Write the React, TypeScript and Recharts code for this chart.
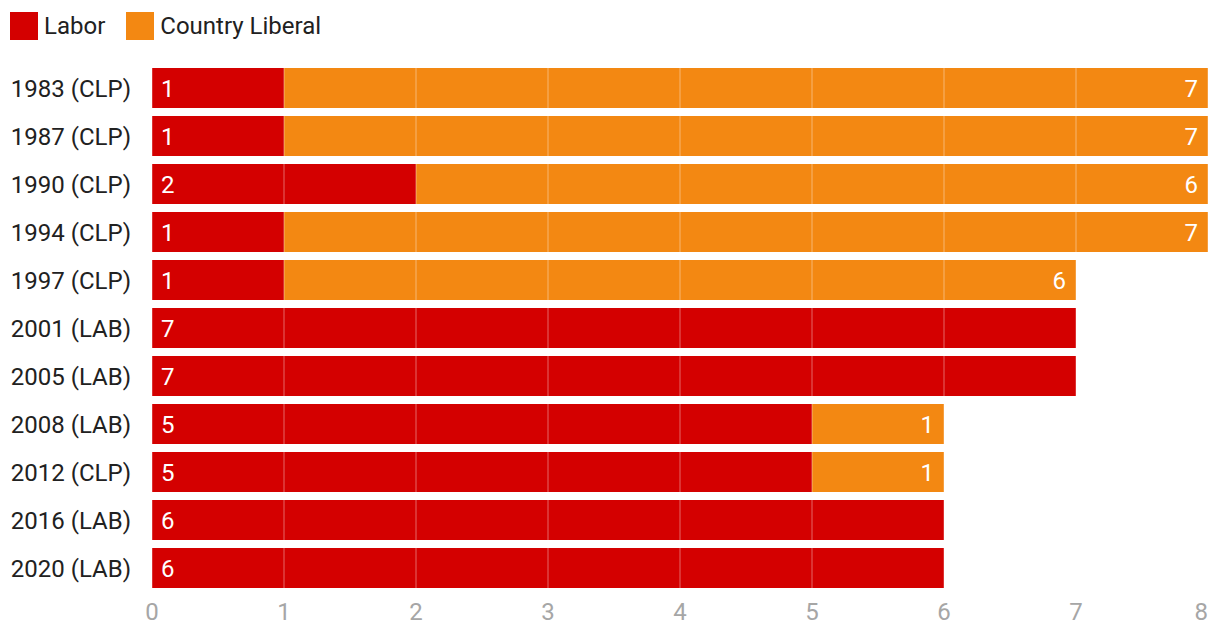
import { Bar, BarChart, LabelList, ReferenceLine, XAxis, YAxis } from 'recharts';

const elections = [
  '1983 (CLP)',
  '1987 (CLP)',
  '1990 (CLP)',
  '1994 (CLP)',
  '1997 (CLP)',
  '2001 (LAB)',
  '2005 (LAB)',
  '2008 (LAB)',
  '2012 (CLP)',
  '2016 (LAB)',
  '2020 (LAB)',
];
const laborSeats = [1, 1, 2, 1, 1, 7, 7, 5, 5, 6, 6];
const clpSeats = [7, 7, 6, 7, 6, 0, 0, 1, 1, 0, 0];
const xTicks = [0, 1, 2, 3, 4, 5, 6, 7, 8];

const LABOR = '#d40000';
const CLP = '#f38812';
const FONT = 'Roboto, sans-serif';

const data = elections.map((name, i) => ({ name, labor: laborSeats[i], clp: clpSeats[i] }));

const hideZero = (v: any) => (v === 0 ? '' : v);

function XTick({ x, y, payload }: any) {
  const last = payload.value === xTicks[xTicks.length - 1];
  return (
    <text x={x} y={y} dy="0.71em" textAnchor={last ? 'end' : 'middle'} fill="#a6a6a6" fontSize={24} fontFamily={FONT}>
      {payload.value}
    </text>
  );
}

function LegendItem({ color, label }: { color: string; label: string }) {
  return (
    <div style={{ display: 'flex', alignItems: 'center', marginRight: 21 }}>
      <div style={{ width: 28, height: 28, background: color, marginRight: 6 }} />
      <span style={{ fontSize: 24, color: '#212121', fontFamily: FONT }}>{label}</span>
    </div>
  );
}

export default function App() {
  return (
    <div style={{ position: 'absolute', left: 0, top: 0, width: 1220, height: 636, background: '#fff' }}>
      <div style={{ position: 'absolute', left: 10, top: 12, height: 28, display: 'flex' }}>
        <LegendItem color={LABOR} label="Labor" />
        <LegendItem color={CLP} label="Country Liberal" />
      </div>
      <BarChart
        width={1220}
        height={636}
        data={data}
        layout="vertical"
        margin={{ top: 64, right: 12, left: 0, bottom: 0 }}
        barSize={40}
      >
        <XAxis
          type="number"
          domain={[0, 8]}
          ticks={xTicks}
          height={44}
          axisLine={false}
          tickLine={false}
          tickSize={0}
          tickMargin={11}
          tick={<XTick />}
        />
        <YAxis
          type="category"
          dataKey="name"
          width={152}
          axisLine={false}
          tickLine={false}
          tickSize={0}
          tickMargin={21}
          tick={{ fill: '#212121', fontSize: 24, fontFamily: FONT }}
        />
        <Bar dataKey="labor" stackId="a" fill={LABOR} isAnimationActive={false}>
          <LabelList
            dataKey="labor"
            position="insideLeft"
            offset={9}
            formatter={hideZero}
            fill="#fff"
            fontSize={24}
            fontFamily={FONT}
          />
        </Bar>
        <Bar dataKey="clp" stackId="a" fill={CLP} isAnimationActive={false}>
          <LabelList
            dataKey="clp"
            position="insideRight"
            offset={10}
            formatter={hideZero}
            fill="#fff"
            fontSize={24}
            fontFamily={FONT}
          />
        </Bar>
        {xTicks.map((t) => (
          <ReferenceLine key={t} x={t} stroke="#fff" strokeOpacity={0.4} strokeWidth={1} />
        ))}
      </BarChart>
    </div>
  );
}
